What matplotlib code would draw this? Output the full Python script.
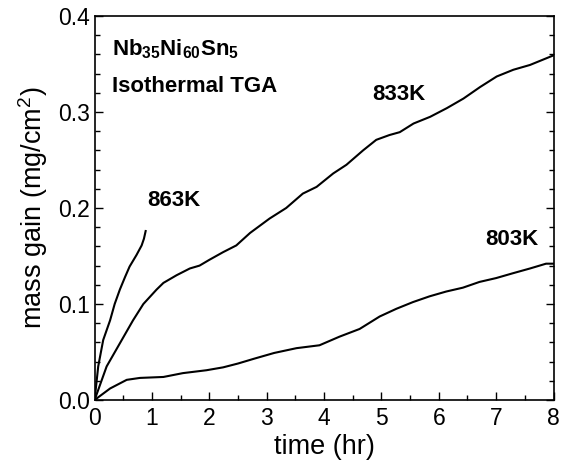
import matplotlib
matplotlib.use("Agg")
import matplotlib.pyplot as plt
from matplotlib.ticker import MultipleLocator, FormatStrFormatter

plt.rcParams['font.family'] = ['Liberation Sans', 'DejaVu Sans']
plt.rcParams['mathtext.fontset'] = 'custom'
plt.rcParams['mathtext.rm'] = 'Liberation Sans'
plt.rcParams['mathtext.bf'] = 'Liberation Sans:bold'

t_863 = [0, 0.063, 0.15, 0.27, 0.35, 0.44, 0.53, 0.61, 0.73, 0.82, 0.86, 0.89]
m_863 = [0, 0.035, 0.0625, 0.083, 0.100, 0.115, 0.128, 0.139, 0.151, 0.161, 0.168, 0.176]

t_833 = [0, 0.21, 0.44, 0.67, 0.85, 1.08, 1.2, 1.43, 1.66, 1.83, 2.0, 2.24, 2.47, 2.71, 3.05,
         3.34, 3.63, 3.87, 4.16, 4.39, 4.68, 4.91, 5.14, 5.32, 5.56, 5.85, 6.14, 6.43, 6.72,
         7.01, 7.30, 7.59, 8.0]
m_833 = [0, 0.035, 0.059, 0.083, 0.100, 0.115, 0.122, 0.130, 0.137, 0.140, 0.146, 0.154, 0.161,
         0.174, 0.189, 0.200, 0.215, 0.222, 0.236, 0.245, 0.260, 0.271, 0.276, 0.279, 0.288,
         0.295, 0.304, 0.314, 0.326, 0.337, 0.344, 0.349, 0.359]

t_803 = [0, 0.27, 0.56, 0.79, 1.2, 1.54, 1.95, 2.24, 2.5, 2.78, 3.13, 3.52, 3.92, 4.27, 4.62,
         4.97, 5.26, 5.55, 5.84, 6.13, 6.42, 6.71, 7.0, 7.29, 7.59, 7.87, 8.0]
m_803 = [0, 0.012, 0.021, 0.023, 0.024, 0.028, 0.031, 0.034, 0.038, 0.043, 0.049, 0.054, 0.057,
         0.066, 0.074, 0.087, 0.095, 0.102, 0.108, 0.113, 0.117, 0.123, 0.127, 0.132, 0.137,
         0.142, 0.142]

fig = plt.figure(figsize=(5.64, 4.65), dpi=100)
ax = fig.add_axes([94.6/564, 1 - 400/465, (553.5 - 94.6)/564, (400 - 16)/465])

for t, m in [(t_863, m_863), (t_833, m_833), (t_803, m_803)]:
    ax.plot(t, m, color='black', lw=1.5)

ax.set_xlim(0, 8)
ax.set_ylim(0, 0.4)
ax.xaxis.set_major_locator(MultipleLocator(1))
ax.xaxis.set_minor_locator(MultipleLocator(0.5))
ax.yaxis.set_major_locator(MultipleLocator(0.1))
ax.yaxis.set_minor_locator(MultipleLocator(0.02))
ax.yaxis.set_major_formatter(FormatStrFormatter('%.1f'))
ax.tick_params(which='both', direction='in', top=False, right=True, labelsize=16.5)
ax.tick_params(which='major', length=6, width=1)
ax.tick_params(which='minor', length=3.5, width=1)
ax.tick_params(axis='x', pad=5)
for s in ax.spines.values():
    s.set_linewidth(1.2)

ax.set_xlabel('time (hr)', fontsize=19.5, labelpad=3)
ax.set_ylabel('mass gain (mg/cm$^2$)', fontsize=19.5, labelpad=6)

ax.text(0.3, 0.365, r'$\mathbf{Nb_{35}Ni_{60}Sn_{5}}$', fontsize=16, fontweight='bold', va='center')
ax.text(0.3, 0.327, 'Isothermal TGA', fontsize=16, fontweight='bold', va='center')
ax.text(1.38, 0.208, '863K', fontsize=16, fontweight='bold', ha='center', va='center')
ax.text(5.3, 0.318, '833K', fontsize=16, fontweight='bold', ha='center', va='center')
ax.text(7.27, 0.167, '803K', fontsize=16, fontweight='bold', ha='center', va='center')

fig.savefig('out.png', dpi=100)
